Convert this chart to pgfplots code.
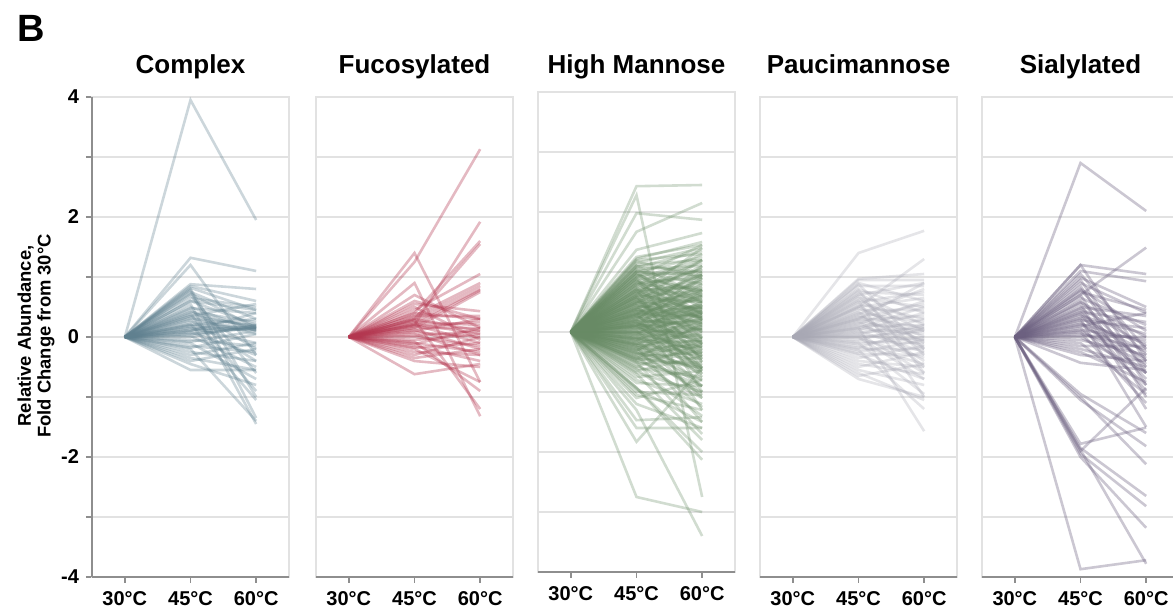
\documentclass[border=0pt]{standalone}
\usepackage{fontspec}
\setmainfont{Liberation Sans}
\usepackage{pgfplots}
\usepackage{pgfplotstable}
\pgfplotsset{compat=1.18}

\definecolor{cplx}{HTML}{5F808F}
\definecolor{fuco}{HTML}{B3364F}
\definecolor{hman}{HTML}{678A64}
\definecolor{pauci}{HTML}{A8A8B4}
\definecolor{sial}{HTML}{6B5F7F}
\definecolor{gridc}{HTML}{E2E2E2}
\definecolor{axisc}{HTML}{8E8E8E}

% columns: a = fold change at 45 C, b = fold change at 60 C (30 C is 0)
\pgfplotstableread{
a b
3.95 1.95
1.32 1.10
1.20 -0.30
0.88 0.80
0.85 0.60
0.82 0.45
0.80 -1.00
0.78 -1.35
0.75 0.30
0.72 0.15
0.70 -0.60
0.65 0.50
0.60 0.20
0.55 -1.45
0.50 0.10
0.48 0.40
0.45 -0.20
0.42 0.25
0.40 0.15
0.38 -0.90
0.35 0.55
0.32 0.05
0.30 0.20
0.28 -0.40
0.25 0.15
0.22 -1.05
0.20 0.30
0.18 0.12
0.15 -0.10
0.12 0.18
0.10 0.40
0.08 -0.30
0.05 0.15
0.02 -0.50
0.00 0.20
-0.05 -0.15
-0.08 0.10
-0.10 -0.70
-0.15 -0.25
-0.18 0.05
-0.20 -1.40
-0.25 -0.40
-0.30 -0.10
-0.35 -0.55
-0.40 -0.20
-0.45 -0.80
-0.55 -0.55
0.60 0.45
0.35 0.18
0.20 0.15
0.15 0.12
0.10 0.14
0.05 0.16
}\tblcplx

\pgfplotstableread{
a b
1.25 3.13
1.40 -0.75
0.90 -1.32
0.20 1.92
0.40 1.60
0.30 1.55
0.45 1.05
0.35 0.90
0.30 0.85
0.25 0.80
0.20 0.78
0.15 0.75
0.55 0.43
0.40 0.30
0.35 0.35
0.30 0.10
0.28 -1.20
0.25 0.20
0.22 0.05
0.20 -0.10
0.18 0.25
0.15 0.15
0.12 -0.20
0.10 0.30
0.08 0.00
0.05 -0.30
0.02 0.10
0.00 -0.15
-0.05 0.05
-0.08 -0.90
-0.10 -0.25
-0.12 0.15
-0.15 -0.40
-0.18 -0.10
-0.20 -0.75
-0.25 -0.30
-0.30 0.00
-0.35 -0.20
-0.62 -0.45
0.60 0.30
0.50 -0.05
-0.40 -0.50
0.70 0.15
}\tblfuco

\pgfplotstableread{
a b
2.43 2.45
2.28 -2.75
1.98 1.87
1.67 2.15
1.37 1.65
1.25 1.45
1.22 1.50
1.20 1.30
1.18 0.90
1.15 1.40
1.12 1.20
1.10 0.60
1.08 1.35
1.05 1.10
1.02 0.80
1.00 1.25
0.98 0.40
0.95 1.00
0.92 1.45
0.90 0.70
0.88 -0.50
0.85 1.15
0.82 0.90
0.80 0.30
0.78 1.30
0.75 0.60
0.72 -1.00
0.70 1.05
0.68 0.20
0.65 0.85
0.62 1.40
0.60 0.50
0.58 -0.30
0.55 0.95
0.52 0.10
0.50 1.20
0.48 0.65
0.45 -0.70
0.42 0.40
0.40 1.00
0.38 0.00
0.36 0.75
0.34 -1.30
0.32 0.55
0.30 0.25
0.28 1.10
0.26 -0.20
0.24 0.45
0.22 0.80
0.20 -0.60
0.18 0.15
0.16 0.60
0.14 -0.10
0.12 0.35
0.10 0.90
0.08 -0.40
0.06 0.20
0.04 0.50
0.02 -0.90
0.00 0.05
-0.02 0.30
-0.04 -0.25
-0.06 0.70
-0.08 -0.55
-0.10 0.10
-0.12 -1.10
-0.14 0.40
-0.16 -0.15
-0.18 -0.70
-0.20 0.20
-0.22 -0.35
-0.24 -1.50
-0.26 0.00
-0.28 -0.80
-0.30 -0.20
-0.32 0.35
-0.34 -1.00
-0.36 -0.45
-0.38 -0.10
-0.40 -1.25
-0.42 -0.60
-0.44 0.15
-0.46 -0.90
-0.48 -0.30
-0.50 -1.70
-0.52 -0.50
-0.55 -1.10
-0.58 -0.20
-0.60 -0.75
-0.62 -1.40
-0.65 -0.40
-0.68 -1.00
-0.70 -1.80
-0.75 -0.65
-0.80 -1.20
-0.85 -0.90
-0.93 -2.00
-0.93 -2.13
-0.95 -1.50
-1.00 -1.05
-1.05 -1.30
-1.10 -0.80
-1.20 -1.60
-1.30 -3.40
-1.47 -1.42
-1.60 -1.60
-1.83 -0.60
-2.75 -3.00
0.30 0.60
0.10 0.20
0.05 -0.05
-0.05 0.15
0.15 0.30
0.25 0.05
-0.15 -0.05
0.35 0.40
0.45 0.25
0.55 0.50
-0.25 -0.40
0.65 0.35
0.75 1.05
-0.35 -0.60
0.20 0.95
0.40 0.70
-0.10 -0.30
0.00 0.45
0.50 -0.10
0.60 0.80
-0.20 0.05
0.10 -0.50
0.70 0.55
0.85 0.20
-0.45 -0.15
0.95 0.65
1.00 0.95
0.30 -0.65
-0.30 -1.05
0.15 -0.25
0.90 1.20
0.80 0.95
0.70 0.75
0.60 1.10
0.50 0.85
0.40 0.55
0.30 0.35
0.20 0.40
0.10 0.65
0.00 0.25
-0.10 0.45
-0.20 -0.15
-0.30 0.10
-0.40 -0.35
-0.50 -0.80
0.95 0.30
0.85 0.50
0.75 -0.20
0.65 0.00
0.55 -0.45
0.45 0.15
0.35 -0.35
0.25 0.70
0.15 -0.75
0.05 0.35
-0.05 -0.45
-0.15 0.25
-0.25 -0.65
-0.35 -0.25
-0.45 -0.55
1.10 1.00
1.05 0.50
1.00 0.20
0.90 -0.10
0.80 0.70
0.70 0.30
0.60 -0.60
0.50 0.40
0.40 -0.20
0.30 0.90
0.20 0.10
0.10 -0.15
0.00 -0.35
-0.10 -0.60
-0.20 -0.90
0.25 0.30
0.35 0.15
0.45 0.60
0.55 0.25
0.65 1.20
0.12 0.05
-0.02 -0.10
0.08 0.50
0.18 -0.40
0.28 0.45
-0.12 0.05
-0.22 -0.25
0.38 0.25
0.48 0.95
0.58 0.70
}\tblhman

\pgfplotstableread{
a b
1.40 1.77
0.50 1.30
0.97 1.05
0.95 0.95
0.90 0.60
0.88 -0.20
0.85 0.85
0.80 0.40
0.78 -0.60
0.75 0.70
0.72 0.20
0.70 0.90
0.68 -0.30
0.65 0.50
0.62 0.10
0.60 -1.00
0.58 0.75
0.55 0.30
0.52 -0.10
0.50 0.65
0.48 0.00
0.45 0.45
0.42 -0.50
0.40 0.25
0.38 0.80
0.36 -0.20
0.34 0.15
0.32 0.55
0.30 -0.05
0.28 0.35
0.26 -0.40
0.24 0.10
0.22 0.60
0.20 -0.15
0.18 0.20
0.16 -1.57
0.14 0.05
0.12 0.40
0.10 -0.25
0.08 0.15
0.06 -0.60
0.04 0.30
0.02 -0.05
0.00 0.10
-0.02 -0.35
-0.05 0.20
-0.08 -0.10
-0.10 -0.95
-0.12 0.00
-0.15 -0.45
-0.18 0.15
-0.20 -0.20
-0.22 -1.20
-0.25 -0.05
-0.28 -0.30
-0.30 -0.70
-0.35 -0.15
-0.40 -0.50
-0.45 -0.62
-0.50 -0.25
-0.55 -0.80
-0.60 -1.05
-0.70 -1.00
-0.65 -0.45
0.30 0.90
0.15 0.50
0.00 -0.70
}\tblpauci

\pgfplotstableread{
a b
2.90 2.10
0.70 1.49
1.20 1.05
1.20 -0.40
1.10 0.93
1.05 -0.20
0.99 0.50
0.95 -0.60
0.90 0.40
0.85 -0.80
0.80 0.10
0.78 -0.30
0.75 0.45
0.70 -1.00
0.65 0.20
0.60 -0.50
0.58 0.00
0.55 -1.20
0.50 0.35
0.48 -0.15
0.45 -0.70
0.42 0.25
0.40 -0.40
0.38 -0.90
0.35 0.05
0.32 -0.25
0.30 -1.50
0.28 0.15
0.25 -0.60
0.22 -0.10
0.20 -0.35
0.18 0.40
0.15 -0.80
0.12 -0.05
0.10 -0.45
0.08 -1.10
0.05 -0.20
0.02 0.00
0.00 -0.60
-0.05 -0.30
-0.10 -0.95
-0.15 -0.15
-0.20 -0.50
-0.25 -0.75
-0.30 -0.40
-0.43 -0.55
-0.95 -1.60
-1.00 -2.12
-1.78 -1.51
-1.85 -2.65
-1.90 -0.85
-1.95 -2.82
-2.00 -3.18
-1.88 -3.78
-3.87 -3.72
-1.05 -1.82
}\tblsial

\newcommand{\drawlines}[3]{% table, colour, opacity
  \pgfplotstablegetrowsof{#1}%
  \pgfmathtruncatemacro{\nrows}{\pgfplotsretval-1}%
  \pgfplotsforeachungrouped \i in {0,...,\nrows}{%
    \pgfplotstablegetelem{\i}{a}\of{#1}\let\va\pgfplotsretval
    \pgfplotstablegetelem{\i}{b}\of{#1}\let\vb\pgfplotsretval
    \edef\tmp{\noexpand\addplot[draw=#2, draw opacity=#3, line width=1.3pt, no markers] coordinates {(0,0) (1,\va) (2,\vb)};}%
    \tmp
  }%
}

\pgfplotsset{panel/.style={
  scale only axis, width=98.5pt, height=240pt,
  xmin=-0.5, xmax=2.5, ymin=-4, ymax=4,
  xtick={0,1,2}, xticklabels={30°C,45°C,60°C},
  ytick={-4,-3,...,4},
  ymajorgrids, grid style={color=gridc, line width=0.75pt},
  axis line style={color=gridc, line width=0.75pt},
  tick align=outside, tick pos=left,
  major tick length=3pt,
  tick style={color=axisc, line width=0.75pt},
  ticklabel style={font=\bfseries\fontsize{10}{12}\selectfont, text=black},
  xticklabel style={yshift=-0.5pt},
  clip=false,
}}

\begin{document}
\begin{tikzpicture}
\node[anchor=base west, font=\bfseries\fontsize{19}{22}\selectfont, inner sep=0pt] at (8.8pt,283pt) {B};
\node[rotate=90, align=center, font=\bfseries\fontsize{9.2}{9.8}\selectfont] at (18pt,136pt) {Relative Abundance,\\Fold Change from 30°C};

\foreach \xc/\tt in {95.25/Complex, 207.25/Fucosylated, 318.25/High Mannose, 429.25/Paucimannose, 540.25/Sialylated}{
  \node[anchor=base, font=\bfseries\fontsize{13}{15}\selectfont, inner sep=0pt] at (\xc pt,267pt) {\tt};
}

\begin{axis}[panel, at={(46pt,15.5pt)}, anchor=south west,
  yticklabels={-4,{},-2,{},0,{},2,{},4}]
  \drawlines{\tblcplx}{cplx}{0.32}
  \draw[axisc, line width=0.75pt] (rel axis cs:0,0) -- (rel axis cs:1,0);
  \draw[axisc, line width=0.75pt] (rel axis cs:0,0) -- (rel axis cs:0,1);
\end{axis}

\begin{axis}[panel, at={(158pt,15.5pt)}, anchor=south west,
  yticklabels={}, ytick style={draw=none}]
  \drawlines{\tblfuco}{fuco}{0.35}
  \draw[axisc, line width=0.75pt] (rel axis cs:0,0) -- (rel axis cs:1,0);
\end{axis}

\begin{axis}[panel, at={(269pt,18pt)}, anchor=south west,
  yticklabels={}, ytick style={draw=none}]
  \drawlines{\tblhman}{hman}{0.3}
  \draw[axisc, line width=0.75pt] (rel axis cs:0,0) -- (rel axis cs:1,0);
\end{axis}

\begin{axis}[panel, at={(380pt,15.5pt)}, anchor=south west,
  yticklabels={}, ytick style={draw=none}]
  \drawlines{\tblpauci}{pauci}{0.3}
  \draw[axisc, line width=0.75pt] (rel axis cs:0,0) -- (rel axis cs:1,0);
\end{axis}

\begin{axis}[panel, at={(491pt,15.5pt)}, anchor=south west,
  yticklabels={}, ytick style={draw=none}]
  \drawlines{\tblsial}{sial}{0.35}
  \draw[axisc, line width=0.75pt] (rel axis cs:0,0) -- (rel axis cs:1,0);
\end{axis}

\pgfresetboundingbox
\useasboundingbox (0pt,0pt) rectangle (586.5pt,304pt);
\end{tikzpicture}
\end{document}
